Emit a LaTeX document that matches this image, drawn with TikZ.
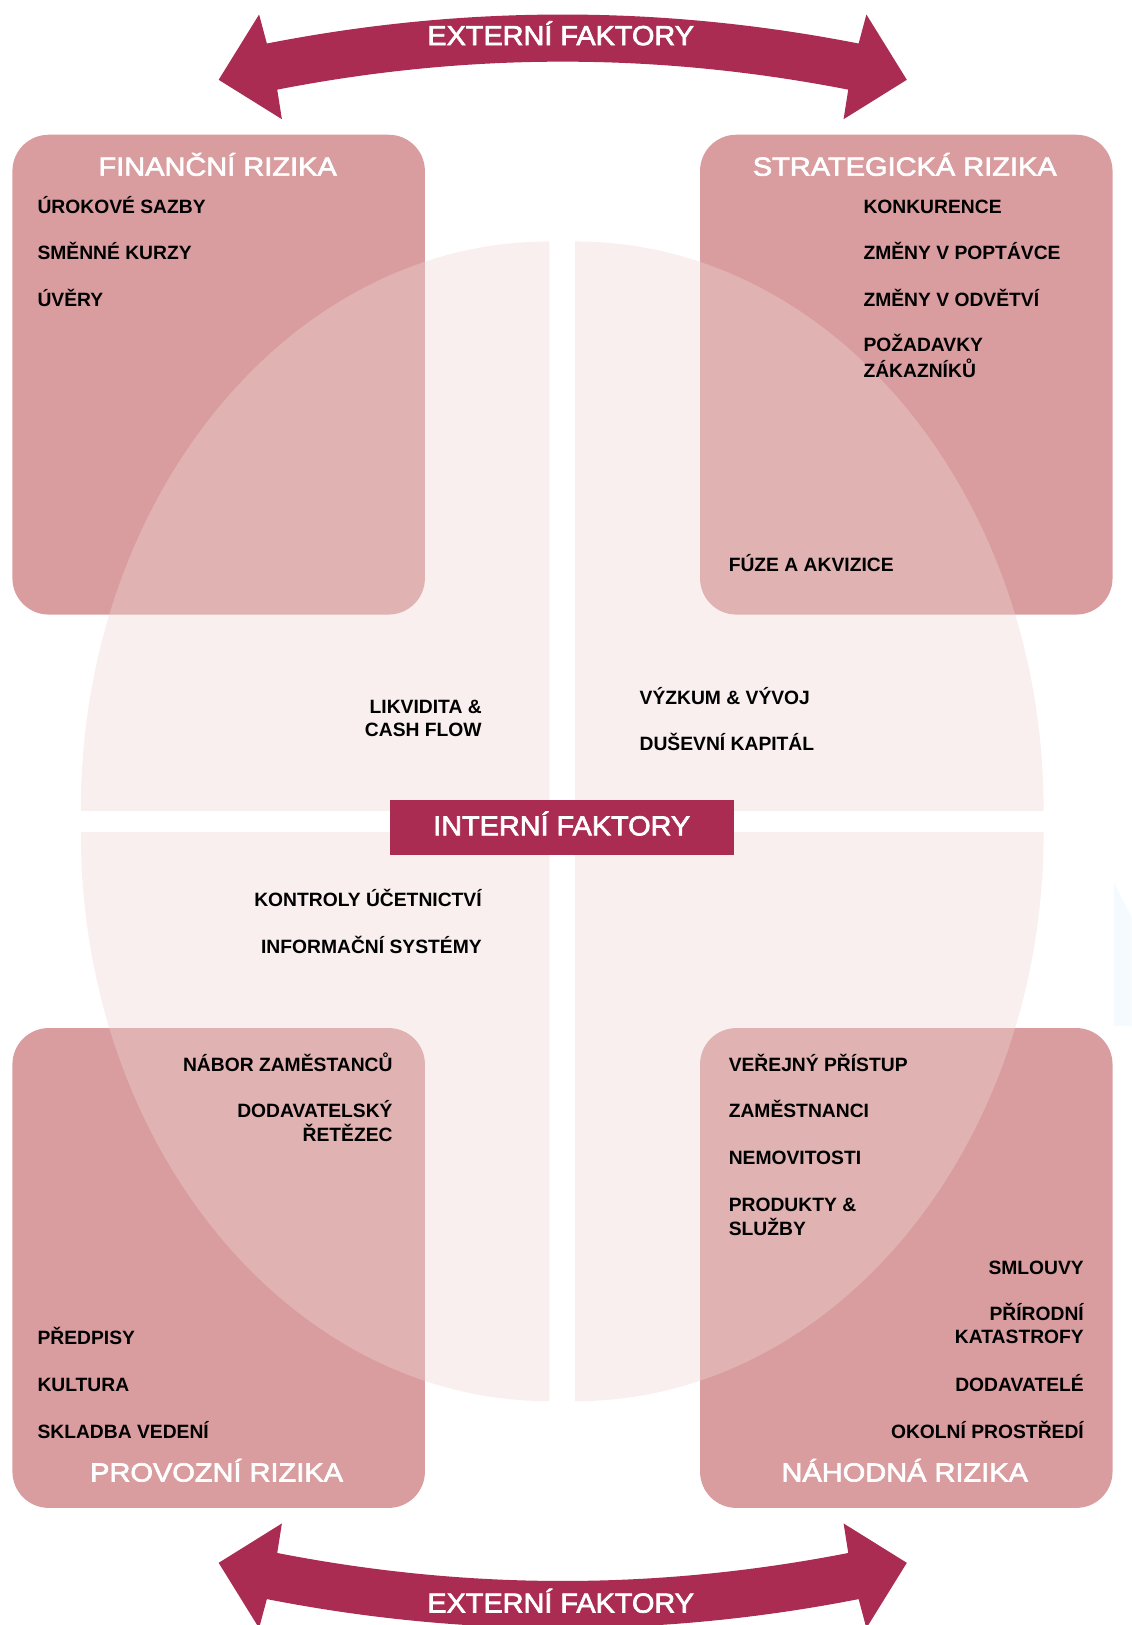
\documentclass[tikz,border=0pt]{standalone}
\usepackage{fontspec}
\setmainfont{Liberation Sans}
\newfontfamily\titlefont[FakeStretch=1.11,FakeBold=2.5]{Liberation Sans}
\newfontfamily\faktfont[FakeStretch=1.05,FakeBold=2.5]{Liberation Sans}
\newcommand\itemtwoL[2]{\begin{tabular}[t]{@{}l@{}}#1\\#2\end{tabular}}
\newcommand\itemtwoR[2]{\begin{tabular}[t]{@{}r@{}}#1\\#2\end{tabular}}
\definecolor{crimson}{RGB}{170,44,82}
\definecolor{boxpink}{RGB}{217,157,160}
\definecolor{circpink}{RGB}{238,214,211}
\definecolor{faintblue}{RGB}{245,250,254}
\begin{document}
\begin{tikzpicture}[x=1pt,y=-1pt,
  box/.style={draw=none,fill=boxpink,rounded corners=35pt,minimum width=398pt,minimum height=463pt,inner sep=0pt},
  quad/.style={fill=circpink,fill opacity=0.37},
  item/.style={font=\fontsize{18.6}{22}\selectfont\bfseries,text=black,inner sep=0pt},
  ttl/.style={font=\fontsize{25.2}{30}\selectfont\titlefont,text=white,inner sep=0pt},
  fakt/.style={font=\fontsize{26.5}{30}\selectfont\faktfont,text=white,inner sep=0pt}]
\useasboundingbox (0,0) rectangle (1092,1568);
\fill[white] (0,0) rectangle (1092,1568);
% faint shape at right edge
\fill[faintblue] (1075,852) -- (1092,885) -- (1092,990) -- (1075,990) -- cycle;
% risk boxes
\node[box] (finbox) at (211,361.5) {};
\node[box] (strbox) at (874.5,361.5) {};
\node[box] (probox) at (211,1223.5) {};
\node[box] (nahbox) at (874.5,1223.5) {};
% internal circle, four quadrants
\begin{scope}
  \clip (0,0) rectangle (530,782);
  \fill[quad] (530,782) ellipse [x radius=452, y radius=549];
\end{scope}
\begin{scope}
  \clip (555,0) rectangle (1092,782);
  \fill[quad] (555,782) ellipse [x radius=452, y radius=549];
\end{scope}
\begin{scope}
  \clip (0,803) rectangle (530,1568);
  \fill[quad] (530,803) ellipse [x radius=452, y radius=549];
\end{scope}
\begin{scope}
  \clip (555,803) rectangle (1092,1568);
  \fill[quad] (555,803) ellipse [x radius=452, y radius=549];
\end{scope}
% internal label
\node[fill=crimson,minimum width=332pt,minimum height=53pt,inner sep=0pt] (intbox) at (542,798.5) {};
\node[fakt,anchor=base] (intlbl) at (542,806) {INTERNÍ FAKTORY};
% external arrows
\fill[crimson] (211,77) -- (250,14) -- (257.5,42) .. controls (448,4.7) and (638,4.7) .. (828.5,42)
  -- (836,14) -- (875,77) -- (814,115) -- (818.5,86.5) .. controls (634,50.5) and (452,50.5) .. (267.5,86.5)
  -- (272,115) -- cycle;
\fill[crimson] (211,1508) -- (250,1571) -- (257.5,1543) .. controls (448,1580.3) and (638,1580.3) .. (828.5,1543)
  -- (836,1571) -- (875,1508) -- (814,1470) -- (818.5,1498.5) .. controls (634,1534.5) and (452,1534.5) .. (267.5,1498.5)
  -- (272,1470) -- cycle;
\node[fakt,anchor=base] (exttop) at (541,43.5) {EXTERNÍ FAKTORY};
\node[fakt,anchor=base] (extbot) at (541,1556) {EXTERNÍ FAKTORY};
% box titles
\node[ttl,anchor=base] (fint) at (210,169.5) {FINANČNÍ RIZIKA};
\node[ttl,anchor=base] (strt) at (873,169.5) {STRATEGICKÁ RIZIKA};
\node[ttl,anchor=base] (prot) at (209,1429.5) {PROVOZNÍ RIZIKA};
\node[ttl,anchor=base] (naht) at (873,1429.5) {NÁHODNÁ RIZIKA};
% financial
\node[item,anchor=base west] (f1) at (36,205.6) {ÚROKOVÉ SAZBY};
\node[item,anchor=base west] (f2) at (36,250.6) {SMĚNNÉ KURZY};
\node[item,anchor=base west] (f3) at (36,295.6) {ÚVĚRY};
% strategic
\node[item,anchor=base west] (s1) at (833,205.6) {KONKURENCE};
\node[item,anchor=base west] (s2) at (833,250.6) {ZMĚNY V POPTÁVCE};
\node[item,anchor=base west] (s3) at (833,295.6) {ZMĚNY V ODVĚTVÍ};
\node[item,anchor=base west] (s4) at (833,339.6) {\itemtwoL{POŽADAVKY}{ZÁKAZNÍKŮ}};
\node[item,anchor=base west] (s5) at (703,551.6) {FÚZE A AKVIZICE};
% internal items
\node[item,anchor=base east] (i1) at (465,688.6) {\itemtwoR{LIKVIDITA \&}{CASH FLOW}};
\node[item,anchor=base west] (i2) at (617,679.6) {VÝZKUM \& VÝVOJ};
\node[item,anchor=base west] (i3) at (617,724.6) {DUŠEVNÍ KAPITÁL};
\node[item,anchor=base east] (i4) at (465,874.6) {KONTROLY ÚČETNICTVÍ};
\node[item,anchor=base east] (i5) at (465,919.6) {INFORMAČNÍ SYSTÉMY};
% operational
\node[item,anchor=base east] (p1) at (379,1033.6) {NÁBOR ZAMĚSTANCŮ};
\node[item,anchor=base east] (p2) at (379,1078.6) {\itemtwoR{DODAVATELSKÝ}{ŘETĚZEC}};
\node[item,anchor=base west] (p3) at (36,1297.6) {PŘEDPISY};
\node[item,anchor=base west] (p4) at (36,1342.6) {KULTURA};
\node[item,anchor=base west] (p5) at (36,1387.6) {SKLADBA VEDENÍ};
% hazard
\node[item,anchor=base west] (n1) at (703,1033.6) {VEŘEJNÝ PŘÍSTUP};
\node[item,anchor=base west] (n2) at (703,1078.6) {ZAMĚSTNANCI};
\node[item,anchor=base west] (n3) at (703,1123.6) {NEMOVITOSTI};
\node[item,anchor=base west] (n4) at (703,1168.6) {\itemtwoL{PRODUKTY \&}{SLUŽBY}};
\node[item,anchor=base east] (n5) at (1046,1229.6) {SMLOUVY};
\node[item,anchor=base east] (n6) at (1046,1274.6) {\itemtwoR{PŘÍRODNÍ}{KATASTROFY}};
\node[item,anchor=base east] (n7) at (1046,1342.6) {DODAVATELÉ};
\node[item,anchor=base east] (n8) at (1046,1387.6) {OKOLNÍ PROSTŘEDÍ};
\end{tikzpicture}
\end{document}
